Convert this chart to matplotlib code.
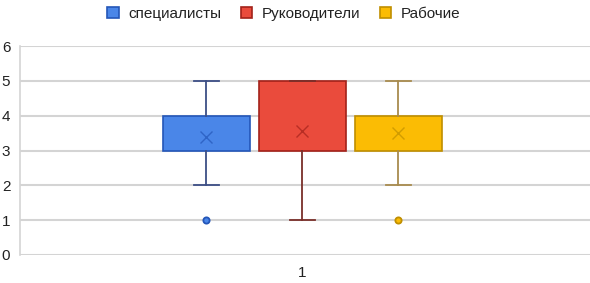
import matplotlib
matplotlib.use('agg')
import matplotlib.pyplot as plt
from matplotlib.patches import Patch

plt.rcParams['font.family'] = ['Liberation Sans', 'DejaVu Sans']

# данные
groups = ['специалисты', 'Руководители', 'Рабочие']
q1 = [3, 3, 3]
q3 = [4, 5, 4]
med = [3, 3, 3]
whis_lo = [2, 1, 2]
whis_hi = [5, 5, 5]
means = [3.4, 3.55, 3.5]
outliers = [[1], [], [1]]
category = '1'

fills = ['#4a86e8', '#ea4b3c', '#fbbc04']
edges = ['#2456b8', '#a3221a', '#c08f00']
whisker_cols = ['#3d4f86', '#7a2f2a', '#a88b4e']

fig = plt.figure(figsize=(5.9, 2.83), dpi=100)
ax = fig.add_axes([0.034, 0.099, 0.966, 0.738])

positions = [0.663, 1.0, 1.337]
for i in range(3):
    stats = [dict(med=med[i], q1=q1[i], q3=q3[i], whislo=whis_lo[i], whishi=whis_hi[i],
                  mean=means[i], fliers=outliers[i])]
    ax.bxp(stats, positions=[positions[i]], widths=0.305, capwidths=0.088,
           patch_artist=True, showmeans=True, manage_ticks=False,
           boxprops=dict(facecolor=fills[i], edgecolor=edges[i], linewidth=1.2),
           medianprops=dict(color=edges[i], linewidth=0),
           whiskerprops=dict(color=whisker_cols[i], linewidth=1.3),
           capprops=dict(color=whisker_cols[i], linewidth=1.3),
           meanprops=dict(marker='x', markeredgecolor=edges[i], markersize=9,
                          markeredgewidth=1.0, alpha=0.7),
           flierprops=dict(marker='o', markersize=4.5, markerfacecolor=fills[i],
                           markeredgecolor=edges[i], markeredgewidth=1.3))

ax.set_xlim(0.01, 2.01)
ax.set_ylim(0, 6)
ax.set_yticks(range(7))
ax.set_xticks([1.0])
ax.set_xticklabels([category])
ax.tick_params(axis='both', length=0, labelsize=11, colors='#222222')
ax.tick_params(axis='y', pad=7)
ax.tick_params(axis='x', pad=8)

ax.grid(axis='y', color='#d4d4d4', linewidth=1.5)
ax.set_axisbelow(True)
for side in ['top', 'right', 'bottom']:
    ax.spines[side].set_visible(False)
ax.spines['left'].set_color('#d4d4d4')
ax.spines['left'].set_linewidth(1.2)

handles = [Patch(facecolor=fills[i], edgecolor=edges[i], linewidth=1.2) for i in range(3)]
fig.legend(handles, groups, loc='upper center', bbox_to_anchor=(0.481, 1.025), ncol=3,
           frameon=False, fontsize=11, handlelength=0.75, handleheight=0.75,
           handletextpad=0.6, columnspacing=1.3, labelcolor='#222222')

plt.savefig('out.png', dpi=100)
